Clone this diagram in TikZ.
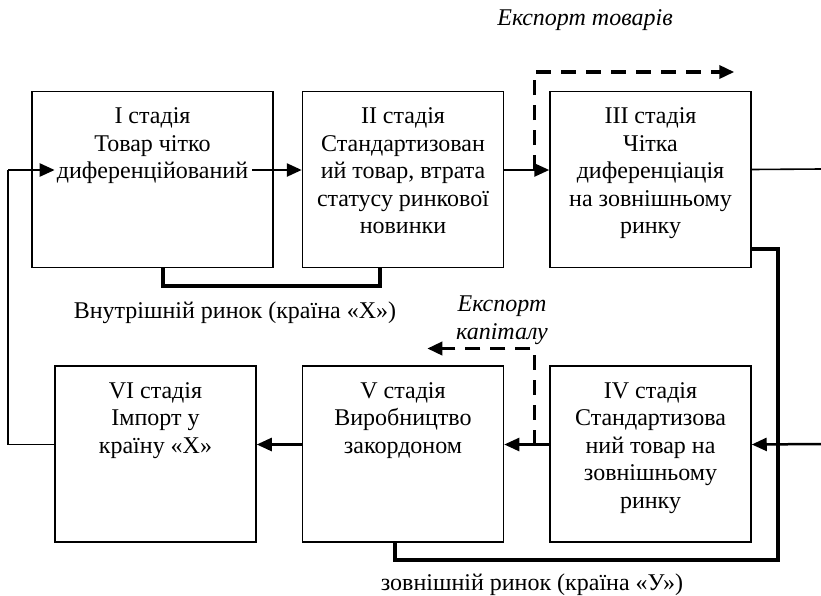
\documentclass[tikz,border=0pt]{standalone}
\usepackage{fontspec}
\setmainfont{Liberation Serif}
\usetikzlibrary{positioning,arrows.meta}

\begin{document}
\begin{tikzpicture}[x=1pt,y=-1pt,>={Triangle[length=15pt,width=13pt]},
    stage/.style={draw,line width=1.5pt,minimum width=201pt,minimum height=176pt,inner sep=0pt},
    stagetext/.style={anchor=north,align=center,inner sep=0pt,font=\fontsize{24}{27.5}\selectfont},
    conn/.style={line width=2.5pt},
    thinline/.style={line width=1.6pt},
    market/.style={line width=4pt},
    flow/.style={line width=3.5pt,dash pattern=on 15pt off 10pt},
    lbl/.style={font=\fontsize{24}{28}\selectfont,inner sep=0pt,anchor=base}]
    \useasboundingbox (0,0) rectangle (821,595);
    %блоки стадій
    \node[stage,minimum width=241pt] (s1) at (152.5,179.5) {};
    \node[stage,right=28pt of s1] (s2) {};
    \node[stage,right=45pt of s2] (s3) {};
    \node[stage,below=97pt of s2] (s5) {};
    \node[stage,below=97pt of s3] (s4) {};
    \node[stage,left=45pt of s5] (s6) {};
    %тексти
    \node[stagetext] (t1) at ([yshift=-17pt]s1.north) {I стадія\\Товар чітко\\диференційований};
    \node[stagetext] (t2) at ([yshift=-17pt]s2.north) {II стадія\\Стандартизован\\ий товар, втрата\\статусу ринкової\\новинки};
    \node[stagetext] (t3) at ([yshift=-17pt]s3.north) {III стадія\\Чітка\\диференціація\\на зовнішньому\\ринку};
    \node[stagetext] (t4) at ([yshift=-17pt]s4.north) {IV стадія\\Стандартизова\\ний товар на\\зовнішньому\\ринку};
    \node[stagetext] (t5) at ([yshift=-17pt]s5.north) {V стадія\\Виробництво\\закордоном};
    \node[stagetext] (t6) at ([yshift=-17pt]s6.north) {VI стадія\\Імпорт у\\країну «X»};
    %вільні кінці
    \coordinate (edgeA) at (821,169);
    \coordinate (edgeB) at (821,444);
    \coordinate (back) at (8,170);
    \coordinate (loopc) at (778,560);
    %зв'язки
    \draw[conn,->] ([xshift=4pt]t1.east |- back) -- ([yshift=9.5pt]s2.west);
    \draw[conn,->] ([yshift=9.5pt]s2.east) -- ([yshift=9.5pt]s3.west);
    \draw[thinline] ([yshift=10pt]s3.east) -- (edgeA);
    \draw[conn,->] (edgeB) -- ([yshift=9.5pt]s4.east);
    \draw[conn,->] ([yshift=9.5pt]s4.west) -- ([yshift=9.5pt]s5.east);
    \draw[conn,->] ([yshift=9.5pt]s5.west) -- ([yshift=9.5pt]s6.east);
    \draw[thinline] ([yshift=9.5pt]s6.west) -| (back);
    \draw[conn,->] (back) -- ([xshift=-2pt]t1.west |- back);
    \draw[market] ([xshift=10.5pt]s1.south) -- ++(0,18) -| ([xshift=-23.5pt]s2.south);
    \draw[market] ([yshift=-69pt]s3.east) -| (loopc) -| ([xshift=-8.5pt]s5.south);
    \draw[flow,->] ([xshift=-15pt,yshift=9.5pt]s3.west) |- ++(200,-98);
    \draw[flow,->] ([xshift=-15pt,yshift=9.5pt]s4.west) |- ++(-107,-96);
    %підписи
    \node[lbl] (home) at (235,318) {Внутрішній ринок (країна «X»)};
    \node[lbl] (abroad) at (532,590) {зовнішній ринок (країна «У»)};
    \node[lbl,font=\fontsize{24}{28}\selectfont\itshape] (goods) at (585,25) {Експорт товарів};
    \node[lbl,font=\fontsize{24}{28}\selectfont\itshape,align=center,anchor=north] (capital) at (502,296) {Експорт\\капіталу};
\end{tikzpicture}
\end{document}
